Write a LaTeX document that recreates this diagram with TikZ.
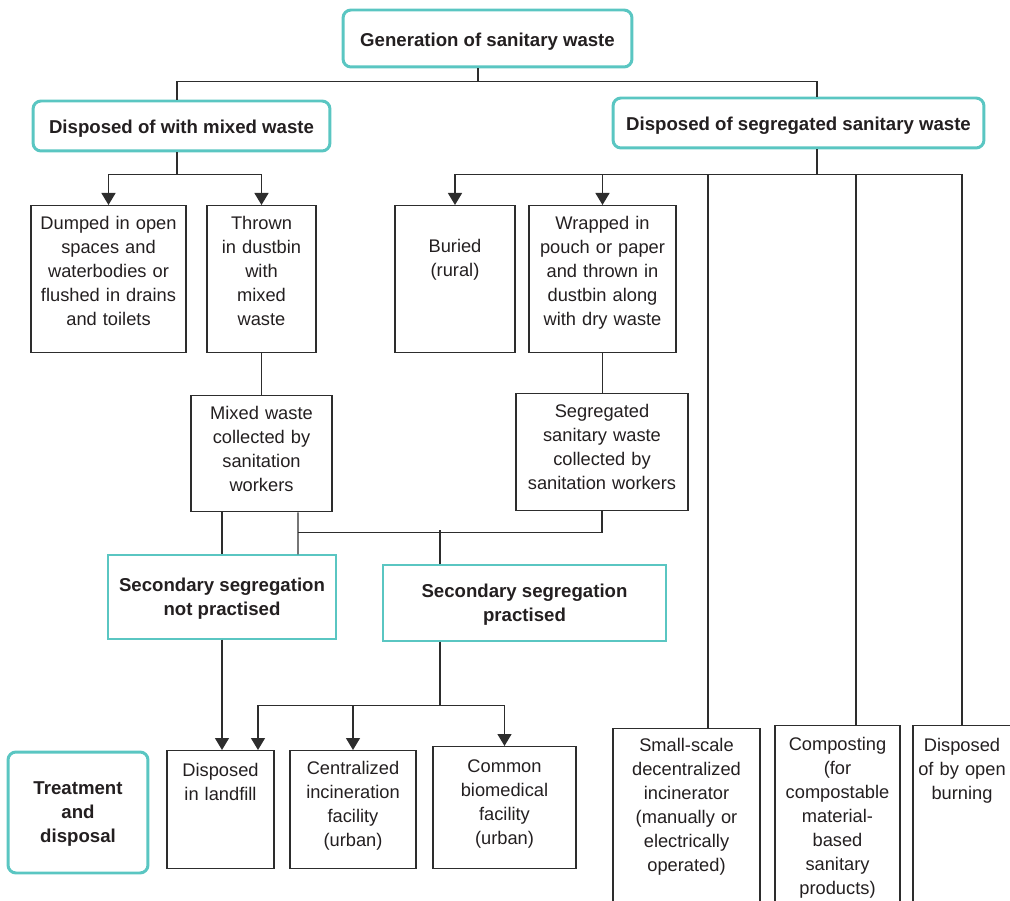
\documentclass[tikz,border=0pt]{standalone}
\usepackage{fontspec}
\setmainfont{Liberation Sans}
\usetikzlibrary{arrows.meta,calc}

\definecolor{tealline}{RGB}{90,198,194}
\definecolor{darkline}{RGB}{45,45,45}
\definecolor{inktext}{RGB}{35,31,32}

\newcommand{\regfont}{\fontsize{10.4}{13.66}\selectfont}
\newcommand{\headfont}{\fontsize{10.6}{13.66}\selectfont\bfseries}

\tikzset{
  head/.style n args={2}{draw=tealline, line width=1.7pt, rounded corners=0.16cm,
    minimum width=#1, minimum height=#2, align=center, font=\headfont, text=inktext,
    inner sep=0pt},
  subhead/.style n args={2}{draw=tealline, line width=0.85pt,
    minimum width=#1, minimum height=#2, align=center, font=\headfont, text=inktext,
    inner sep=0pt},
  oneline/.style={text height=0.39cm},
  twoline/.style={text depth=-0.08cm},
  cell/.style n args={3}{draw=darkline, line width=0.75pt, anchor=north, align=center,
    font=\regfont, text=inktext, inner xsep=0pt, inner ysep=#2, minimum width=#1,
    text width=#1, text height=0.26cm, text depth=#3},
  link/.style={draw=darkline, line width=0.75pt},
  arr/.style={link, -{Triangle[width=0.28cm,length=0.24cm]}}
}

\begin{document}
\begin{tikzpicture}[x=0.02cm, y=-0.02cm]

\useasboundingbox (0,0) rectangle (1010,901);
\clip (0,0) rectangle (1010,901);

% Top level
\node[head={5.78cm}{1.14cm}, oneline] (gen) at (487.5,38.5) {Generation of sanitary waste};
\node[head={5.94cm}{1.0cm}, oneline] (mixed) at (181.5,126) {Disposed of with mixed waste};
\node[head={7.42cm}{1.0cm}, oneline] (segr) at (798.5,123) {Disposed of segregated sanitary waste};

\draw[link] ($(gen.south)+(-9.5,0)$) -- ++(0,13) coordinate (topbus);
\draw[link] ($(mixed.north)+(-4.5,0)$) |- (topbus) -| ($(segr.north)+(18.5,0)$);

% Mixed waste branch
\node[cell={3.1cm}{0.21cm}{2.26cm}] (dumped) at (108.5,205)
  {Dumped in open\\spaces and\\waterbodies or\\flushed in drains\\and toilets};
\node[cell={2.18cm}{0.21cm}{2.26cm}] (thrown) at (261.5,205)
  {Thrown\\in dustbin\\with\\mixed\\waste};

\draw[link] ($(mixed.south)+(-4.5,0)$) -- ++(0,22) coordinate (busL);
\draw[arr] (busL) -| (dumped.north);
\draw[arr] (busL) -| (thrown.north);

% Segregated branch
\node[cell={2.4cm}{0.67cm}{1.34cm}] (buried) at (455,205) {Buried\\(rural)};
\node[cell={2.94cm}{0.21cm}{2.26cm}] (wrapped) at (602.5,205)
  {Wrapped in\\pouch or paper\\and thrown in\\dustbin along\\with dry waste};

\node[cell={2.94cm}{0.19cm}{3.4cm}] (small) at (686.5,728)
  {Small-scale\\decentralized\\incinerator\\(manually or\\electrically\\operated)};
\node[cell={2.5cm}{0.23cm}{3.4cm}] (compost) at (837.5,725)
  {Composting\\(for\\compostable\\material-\\based\\sanitary\\products)};
\node[cell={1.96cm}{0.25cm}{3.4cm}] (burning) at (962,725)
  {Disposed\\of by open\\burning};

\draw[link] ($(segr.south)+(18.5,0)$) -- ++(0,25) coordinate (busR);
\draw[arr] (busR) -| (buried.north);
\draw[arr] (busR) -| (wrapped.north);
\draw[link] (busR) -| ($(small.north)+(21.5,0)$);
\draw[link] (busR) -| ($(compost.north)+(18.5,0)$);
\draw[link] (busR) -| (burning.north);

% Collection
\node[cell={2.82cm}{0.21cm}{1.64cm}] (mixcol) at (261.5,395)
  {Mixed waste\\collected by\\sanitation\\workers};
\node[cell={3.44cm}{0.21cm}{1.66cm}] (segcol) at (602,393)
  {Segregated\\sanitary waste\\collected by\\sanitation workers};

\draw[link] (thrown.south) -- (mixcol.north);
\draw[link] (wrapped.south) -- (wrapped.south |- segcol.north);

% Secondary segregation
\node[subhead={4.56cm}{1.68cm}, twoline] (notprac) at (222,597)
  {Secondary segregation\\not practised};
\node[subhead={5.66cm}{1.52cm}, twoline] (prac) at (524.5,603)
  {Secondary segregation\\practised};

\draw[link] (mixcol.south -| notprac.north) -- (notprac.north);
\draw[link] ($(mixcol.south)+(36.5,0)$) -- ($(notprac.north)+(76,0)$);
\draw[link] (segcol.south) |- ($(mixcol.south)+(36.5,20)$);
\draw[link] ($(prac.north)+(-84.5,0)$) -- ++(0,-34);

% Treatment and disposal
\node[head={2.8cm}{2.42cm}, twoline] (treat) at (78,812.5) {Treatment\\and\\disposal};
\node[cell={2.14cm}{0.25cm}{1.6cm}] (landfill) at (220.5,750)
  {Disposed\\in landfill};
\node[cell={2.52cm}{0.21cm}{1.68cm}] (central) at (353,750)
  {Centralized\\incineration\\facility\\(urban)};
\node[cell={2.86cm}{0.25cm}{1.68cm}] (common) at (504.5,746)
  {Common\\biomedical\\facility\\(urban)};

\draw[arr] (notprac.south) -- (notprac.south |- landfill.north);
\draw[link] ($(prac.south)+(-84.5,0)$) -- ++(0,64) coordinate (busB);
\draw[arr] (busB) -| ($(landfill.north)+(37.5,0)$);
\draw[arr] (busB) -| (central.north);
\draw[arr] (busB) -| (common.north);

\end{tikzpicture}
\end{document}
